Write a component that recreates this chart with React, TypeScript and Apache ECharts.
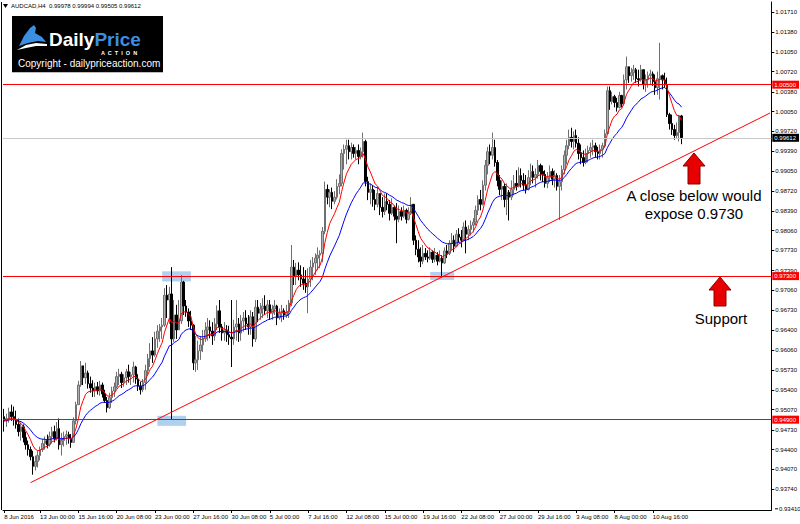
import React, { useEffect, useRef } from "react";
import * as echarts from "echarts";

// ---- Data (AUDCAD H4, 8 Jun 2016 12:00 -> 12 Aug 2016 16:00) ----
const FIRST_OPEN = 0.9495;

const closes: number[] = [
  0.9488, 0.9492, 0.9503, 0.9495, 0.9490, 0.9482, 0.9470, 0.9478, 0.9460, 0.9448,
  0.9440, 0.9428, 0.9412, 0.9420, 0.9430, 0.9440, 0.9450, 0.9455, 0.9448, 0.9462,
  0.9470, 0.9458, 0.9475, 0.9448, 0.9455, 0.9462, 0.9465, 0.9458, 0.9452, 0.9488,
  0.9515, 0.9548, 0.9580, 0.9560, 0.9568, 0.9550, 0.9543, 0.9538, 0.9545, 0.9538,
  0.9548, 0.9533, 0.9522, 0.9510, 0.9527, 0.9538, 0.9545, 0.9562, 0.9566, 0.9552,
  0.9560, 0.9570, 0.9562, 0.9565, 0.9578, 0.9558, 0.9546, 0.9540, 0.9552, 0.9572,
  0.9592, 0.9605, 0.9598, 0.9625, 0.9638, 0.9645, 0.9648, 0.9698, 0.9690, 0.9700,
  0.9625, 0.9665, 0.9640, 0.9655, 0.9720, 0.9680, 0.9670, 0.9655, 0.9648, 0.9585,
  0.9590, 0.9605, 0.9615, 0.9625, 0.9640, 0.9645, 0.9638, 0.9630, 0.9650, 0.9672,
  0.9645, 0.9635, 0.9640, 0.9632, 0.9628, 0.9625, 0.9645, 0.9650, 0.9635, 0.9655,
  0.9660, 0.9650, 0.9645, 0.9662, 0.9625, 0.9678, 0.9668, 0.9675, 0.9680, 0.9672,
  0.9682, 0.9668, 0.9675, 0.9680, 0.9660, 0.9668, 0.9672, 0.9665, 0.9670, 0.9685,
  0.9745, 0.9730, 0.9740, 0.9732, 0.9725, 0.9718, 0.9712, 0.9725, 0.9745, 0.9752,
  0.9760, 0.9765, 0.9768, 0.9805, 0.9875, 0.9862, 0.9870, 0.9855, 0.9862, 0.9880,
  0.9885, 0.9935, 0.9942, 0.9948, 0.9938, 0.9945, 0.9935, 0.9940, 0.9930, 0.9938,
  0.9955, 0.9888, 0.9870, 0.9875, 0.9858, 0.9850, 0.9868, 0.9845, 0.9838, 0.9855,
  0.9850, 0.9835, 0.9845, 0.9830, 0.9825, 0.9838, 0.9830, 0.9840, 0.9825, 0.9835,
  0.9850, 0.9790, 0.9775, 0.9762, 0.9755, 0.9768, 0.9762, 0.9760, 0.9770, 0.9758,
  0.9765, 0.9755, 0.9760, 0.9752, 0.9772, 0.9768, 0.9785, 0.9790, 0.9780, 0.9800,
  0.9795, 0.9790, 0.9812, 0.9800, 0.9808, 0.9815, 0.9820, 0.9840, 0.9858, 0.9850,
  0.9882, 0.9915, 0.9938, 0.9932, 0.9945, 0.9920, 0.9890, 0.9875, 0.9880, 0.9858,
  0.9870, 0.9862, 0.9875, 0.9885, 0.9880, 0.9898, 0.9890, 0.9882, 0.9875, 0.9895,
  0.9905, 0.9895, 0.9900, 0.9915, 0.9905, 0.9900, 0.9885, 0.9895, 0.9905, 0.9892,
  0.9898, 0.9880, 0.9888, 0.9908, 0.9932, 0.9948, 0.9962, 0.9955, 0.9965, 0.9952,
  0.9935, 0.9928, 0.9920, 0.9935, 0.9940, 0.9945, 0.9948, 0.9938, 0.9935, 0.9942,
  0.9948, 0.9968, 1.0040, 1.0022, 1.0030, 1.0020, 1.0012, 1.0032, 1.0018, 1.0058,
  1.0080, 1.0065, 1.0070, 1.0075, 1.0060, 1.0058, 1.0075, 1.0050, 1.0058, 1.0065,
  1.0068, 1.0055, 1.0045, 1.0060, 1.0065, 1.0058, 1.0050, 1.0000, 0.9985, 0.9975,
  0.9965, 0.9970, 0.99978, 0.99612,
];

const highs: number[] = [
  0.9508, 0.9500, 0.9510, 0.9515, 0.9512, 0.9505, 0.9492, 0.9485, 0.9482, 0.9470,
  0.9455, 0.9445, 0.9438, 0.9430, 0.9438, 0.9445, 0.9458, 0.9462, 0.9465, 0.9470,
  0.9478, 0.9480, 0.9486, 0.9492, 0.9468, 0.9470, 0.9472, 0.9470, 0.9466, 0.9494,
  0.9520, 0.9555, 0.9588, 0.9580, 0.9585, 0.9572, 0.9562, 0.9556, 0.9552, 0.9553,
  0.9555, 0.9552, 0.9540, 0.9528, 0.9535, 0.9545, 0.9552, 0.9570, 0.9575, 0.9570,
  0.9566, 0.9575, 0.9582, 0.9570, 0.9587, 0.9580, 0.9566, 0.9553, 0.9558, 0.9582,
  0.9600, 0.9618, 0.9628, 0.9637, 0.9648, 0.9650, 0.9660, 0.9710, 0.9715, 0.9712,
  0.9745, 0.9690, 0.9682, 0.9690, 0.9732, 0.9722, 0.9690, 0.9676, 0.9672, 0.9650,
  0.9630, 0.9622, 0.9630, 0.9640, 0.9653, 0.9660, 0.9656, 0.9653, 0.9660, 0.9681,
  0.9690, 0.9650, 0.9653, 0.9648, 0.9647, 0.9690, 0.9657, 0.9690, 0.9660, 0.9665,
  0.9670, 0.9673, 0.9665, 0.9673, 0.9670, 0.9690, 0.9690, 0.9685, 0.9693, 0.9698,
  0.9690, 0.9690, 0.9682, 0.9690, 0.9682, 0.9676, 0.9682, 0.9676, 0.9682, 0.9690,
  0.9782, 0.9757, 0.9752, 0.9753, 0.9748, 0.9745, 0.9740, 0.9743, 0.9757, 0.9762,
  0.9768, 0.9778, 0.9773, 0.9812, 0.9888, 0.9883, 0.9875, 0.9878, 0.9872, 0.9892,
  0.9900, 0.9942, 0.9950, 0.9958, 0.9958, 0.9953, 0.9950, 0.9946, 0.9950, 0.9945,
  0.9970, 0.9958, 0.9896, 0.9885, 0.9882, 0.9874, 0.9879, 0.9865, 0.9862, 0.9868,
  0.9868, 0.9857, 0.9860, 0.9848, 0.9852, 0.9848, 0.9845, 0.9848, 0.9843, 0.9845,
  0.9862, 0.9850, 0.9798, 0.9790, 0.9778, 0.9782, 0.9777, 0.9773, 0.9778, 0.9773,
  0.9777, 0.9770, 0.9773, 0.9765, 0.9778, 0.9782, 0.9790, 0.9802, 0.9798, 0.9807,
  0.9810, 0.9807, 0.9820, 0.9823, 0.9815, 0.9823, 0.9827, 0.9848, 0.9865, 0.9874,
  0.9890, 0.9924, 0.9946, 0.9950, 0.9970, 0.9958, 0.9924, 0.9899, 0.9890, 0.9885,
  0.9885, 0.9874, 0.9890, 0.9899, 0.9907, 0.9912, 0.9910, 0.9902, 0.9899, 0.9907,
  0.9918, 0.9915, 0.9910, 0.9924, 0.9918, 0.9915, 0.9907, 0.9904, 0.9915, 0.9910,
  0.9907, 0.9902, 0.9899, 0.9915, 0.9940, 0.9958, 0.9975, 0.9978, 0.9972, 0.9975,
  0.9962, 0.9950, 0.9940, 0.9943, 0.9948, 0.9953, 0.9958, 0.9953, 0.9946, 0.9950,
  0.9953, 0.9975, 1.0047, 1.0047, 1.0038, 1.0033, 1.0028, 1.0038, 1.0033, 1.0067,
  1.0097, 1.0080, 1.0078, 1.0083, 1.0078, 1.0075, 1.0083, 1.0075, 1.0067, 1.0072,
  1.0075, 1.0072, 1.0067, 1.0072, 1.0120, 1.0067, 1.0070, 1.0062, 1.0003, 1.0000,
  0.9983, 0.9987, 0.9999, 0.99994,
];

const lows: number[] = [
  0.9470, 0.9478, 0.9485, 0.9488, 0.9480, 0.9475, 0.9462, 0.9455, 0.9452, 0.9440,
  0.9430, 0.9422, 0.9398, 0.9405, 0.9410, 0.9422, 0.9436, 0.9440, 0.9442, 0.9445,
  0.9450, 0.9452, 0.9455, 0.9440, 0.9430, 0.9445, 0.9448, 0.9450, 0.9443, 0.9455,
  0.9482, 0.9515, 0.9545, 0.9548, 0.9550, 0.9542, 0.9535, 0.9528, 0.9528, 0.9532,
  0.9530, 0.9527, 0.9518, 0.9502, 0.9508, 0.9518, 0.9528, 0.9542, 0.9548, 0.9543,
  0.9545, 0.9548, 0.9552, 0.9548, 0.9552, 0.9550, 0.9538, 0.9532, 0.9536, 0.9540,
  0.9565, 0.9578, 0.9585, 0.9595, 0.9610, 0.9620, 0.9625, 0.9645, 0.9660, 0.9650,
  0.9490, 0.9620, 0.9625, 0.9640, 0.9650, 0.9665, 0.9662, 0.9645, 0.9640, 0.9573,
  0.9570, 0.9573, 0.9590, 0.9603, 0.9620, 0.9622, 0.9626, 0.9615, 0.9622, 0.9640,
  0.9635, 0.9622, 0.9622, 0.9620, 0.9615, 0.9578, 0.9615, 0.9622, 0.9620, 0.9622,
  0.9637, 0.9640, 0.9632, 0.9632, 0.9612, 0.9620, 0.9653, 0.9657, 0.9660, 0.9665,
  0.9660, 0.9657, 0.9657, 0.9665, 0.9648, 0.9657, 0.9653, 0.9657, 0.9660, 0.9660,
  0.9680, 0.9715, 0.9715, 0.9723, 0.9712, 0.9707, 0.9702, 0.9668, 0.9712, 0.9723,
  0.9732, 0.9740, 0.9743, 0.9753, 0.9800, 0.9850, 0.9845, 0.9842, 0.9850, 0.9858,
  0.9867, 0.9880, 0.9908, 0.9917, 0.9925, 0.9925, 0.9928, 0.9925, 0.9917, 0.9925,
  0.9928, 0.9880, 0.9857, 0.9850, 0.9846, 0.9840, 0.9845, 0.9832, 0.9828, 0.9832,
  0.9840, 0.9823, 0.9832, 0.9823, 0.9785, 0.9820, 0.9823, 0.9827, 0.9818, 0.9823,
  0.9832, 0.9782, 0.9765, 0.9753, 0.9745, 0.9750, 0.9757, 0.9753, 0.9757, 0.9752,
  0.9753, 0.9748, 0.9753, 0.9728, 0.9750, 0.9760, 0.9765, 0.9773, 0.9770, 0.9778,
  0.9787, 0.9778, 0.9788, 0.9768, 0.9790, 0.9798, 0.9803, 0.9815, 0.9832, 0.9840,
  0.9848, 0.9873, 0.9900, 0.9917, 0.9925, 0.9913, 0.9880, 0.9865, 0.9857, 0.9845,
  0.9832, 0.9823, 0.9857, 0.9865, 0.9873, 0.9878, 0.9878, 0.9873, 0.9868, 0.9873,
  0.9882, 0.9885, 0.9878, 0.9893, 0.9890, 0.9887, 0.9878, 0.9877, 0.9887, 0.9882,
  0.9878, 0.9873, 0.9824, 0.9873, 0.9900, 0.9917, 0.9942, 0.9945, 0.9942, 0.9945,
  0.9925, 0.9917, 0.9913, 0.9917, 0.9920, 0.9928, 0.9932, 0.9928, 0.9925, 0.9925,
  0.9928, 0.9945, 0.9967, 1.0008, 1.0017, 1.0012, 1.0005, 1.0010, 1.0012, 1.0015,
  1.0042, 1.0053, 1.0055, 1.0058, 1.0053, 1.0047, 1.0055, 1.0042, 1.0038, 1.0045,
  1.0050, 1.0048, 1.0033, 1.0033, 1.0025, 1.0042, 1.0045, 0.9996, 0.9975, 0.9966,
  0.9958, 0.9961, 0.9955, 0.99505,
];

const PRICE_TICKS: number[] = [
  0.9341, 0.9374, 0.9407, 0.944, 0.9473, 0.9507, 0.954, 0.9573, 0.9606, 0.964,
  0.9673, 0.9706, 0.9739, 0.9773, 0.9806, 0.9839, 0.9872, 0.9905, 0.9939, 0.9972,
  1.0005, 1.0038, 1.0072, 1.0105, 1.0138, 1.0171,
];

const RED_LEVELS: number[] = [1.005, 0.973, 0.949];
const BID = 0.99612;
const TREND_START: [number, number] = [11, 0.93847];
const TREND_END: [number, number] = [320, 1.00027];
const BOXES: [number, number, number, number][] = [
  [66, 0.9738, 78, 0.9721],
  [64, 0.94964, 76, 0.94797],
  [178, 0.9737, 188, 0.97236],
];

const TOTAL_SLOTS = 321;
const MONTHS = ["Jan", "Feb", "Mar", "Apr", "May", "Jun", "Jul", "Aug", "Sep", "Oct", "Nov", "Dec"];

function buildCategories(): string[] {
  const out: string[] = [];
  let t = Date.UTC(2016, 5, 8, 12);
  while (out.length < TOTAL_SLOTS) {
    const d = new Date(t);
    const wd = d.getUTCDay();
    if (wd !== 0 && wd !== 6) {
      if (out.length === 0) {
        out.push(`${d.getUTCDate()} ${MONTHS[d.getUTCMonth()]} ${d.getUTCFullYear()}`);
      } else {
        const hh = String(d.getUTCHours()).padStart(2, "0");
        out.push(`${d.getUTCDate()} ${MONTHS[d.getUTCMonth()]} ${hh}:00`);
      }
    }
    t += 4 * 3600 * 1000;
  }
  return out;
}

function ema(vals: number[], p: number): number[] {
  const k = 2 / (p + 1);
  const out: number[] = [];
  let e = vals[0];
  vals.forEach((v, i) => {
    e = i === 0 ? v : v * k + e * (1 - k);
    out.push(+e.toFixed(5));
  });
  return out;
}

const showIdx = (i: number) => i === 0 || (i >= 15 && i <= 283 && (i - 15) % 16 === 0);

export default function App() {
  const ref = useRef<HTMLDivElement>(null);
  useEffect(() => {
    if (!ref.current) return;
    const chart = echarts.init(ref.current, null, { renderer: "svg" });
    const cats = buildCategories();
    const candles = closes.map((c, i) => {
      const o = i === 0 ? FIRST_OPEN : closes[i - 1];
      const h = Math.max(highs[i], o, c);
      const l = Math.min(lows[i], o, c);
      return [o, c, l, h];
    });
    const font = "'Liberation Sans', Arial, sans-serif";
    const redLines = RED_LEVELS.map((v) => ({
      yAxis: v,
      lineStyle: { color: "#ff0000", width: 1, type: "solid" },
      label: {
        show: true,
        position: "end",
        distance: 1,
        formatter: v.toFixed(5),
        color: "#fff",
        backgroundColor: "#ff0000",
        fontSize: 6,
        fontFamily: font,
        padding: [1, 3, 1, 2],
      },
    }));
    const option: any = {
      animation: false,
      backgroundColor: "#ffffff",
      grid: { left: 3, right: 25, top: 2, bottom: 14 },
      xAxis: {
        type: "category",
        data: cats,
        boundaryGap: true,
        axisLine: { show: true, lineStyle: { color: "#000", width: 1 } },
        axisTick: {
          show: true,
          alignWithLabel: true,
          interval: (i: number) => showIdx(i),
          length: 3,
          lineStyle: { color: "#000" },
        },
        axisLabel: {
          interval: (i: number) => showIdx(i),
          fontSize: 6,
          color: "#000",
          align: "left",
          margin: 4,
          fontFamily: font,
        },
        splitLine: { show: false },
      },
      yAxis: {
        type: "value",
        position: "right",
        min: 0.9339,
        max: 1.01882,
        axisLine: { show: true, lineStyle: { color: "#000", width: 1 } },
        axisTick: { show: true, length: 3, customValues: PRICE_TICKS.slice(1), lineStyle: { color: "#000" } },
        axisLabel: {
          customValues: PRICE_TICKS.slice(1),
          formatter: (v: number) => v.toFixed(5),
          fontSize: 6,
          color: "#000",
          margin: 4,
          fontFamily: font,
          showMaxLabel: true,
          hideOverlap: false,
        },
        splitLine: { show: false },
      },
      series: [
        {
          type: "candlestick",
          data: candles,
          barWidth: 2,
          itemStyle: {
            color: "#b0b0b0",
            color0: "#000000",
            borderColor: "#707070",
            borderColor0: "#000000",
            borderWidth: 1,
          },
          markLine: {
            silent: true,
            symbol: "none",
            precision: 5,
            animation: false,
            data: [
              ...redLines,
              {
                yAxis: BID,
                lineStyle: { color: "#c8c8c8", width: 1, type: "solid" },
                label: {
                  show: true,
                  position: "end",
                  distance: 1,
                  formatter: BID.toFixed(5),
                  color: "#fff",
                  backgroundColor: "#000",
                  fontSize: 6,
                  fontFamily: font,
                  padding: [1, 3, 1, 2],
                },
              },
              [
                { coord: TREND_START, lineStyle: { color: "#ff0000", width: 1, type: "solid" }, label: { show: false } },
                { coord: TREND_END },
              ],
            ],
          },
          markArea: {
            silent: true,
            itemStyle: { color: "rgba(110,170,225,0.55)" },
            data: BOXES.map((b) => [
              { xAxis: b[0], yAxis: b[1] },
              { xAxis: b[2], yAxis: b[3] },
            ]),
          },
        },
        {
          type: "line",
          data: ema(closes, 21),
          showSymbol: false,
          symbol: "none",
          lineStyle: { color: "#0000ff", width: 1 },
          z: 3,
        },
        {
          type: "line",
          data: ema(closes, 8),
          showSymbol: false,
          symbol: "none",
          lineStyle: { color: "#ff0000", width: 1 },
          z: 4,
        },
      ],
      graphic: [
        { type: "line", shape: { x1: 1.5, y1: 2, x2: 1.5, y2: 510 }, style: { stroke: "#000", lineWidth: 1 } },
        { type: "polygon", shape: { points: [[3, 4], [8, 4], [5.5, 8]] }, style: { fill: "#000" } },
        {
          type: "text",
          x: 11,
          y: 6,
          style: {
            text: "AUDCAD,H4  0.99978 0.99994 0.99505 0.99612",
            fontSize: 6,
            fontFamily: font,
            fill: "#000",
            verticalAlign: "middle",
          },
        },
        // logo
        { type: "rect", shape: { x: 12, y: 16, width: 151, height: 56 }, style: { fill: "#000" } },
        { type: "rect", shape: { x: 12, y: 72, width: 151, height: 1 }, style: { fill: "#bdbdbd" } },
        {
          type: "polygon",
          shape: { points: [[19, 46], [24, 36], [30, 28], [34, 25], [36, 28], [35, 33], [42, 37], [46, 42], [38, 41], [28, 43]] },
          style: { fill: "#3b8ee0" },
        },
        {
          type: "polygon",
          shape: { points: [[17, 50], [26, 45], [36, 43], [47, 44], [47, 46], [36, 46], [26, 48]] },
          style: { fill: "#ffffff" },
        },
        {
          type: "text",
          x: 49,
          y: 39,
          style: {
            text: "{a|Daily}{b|Price}",
            verticalAlign: "middle",
            rich: {
              a: { fontSize: 19, lineHeight: 17, fontWeight: "bold", fill: "#ffffff", fontFamily: font },
              b: { fontSize: 19, lineHeight: 17, fontWeight: "bold", fill: "#3b8ee0", fontFamily: font },
            },
          },
        },
        {
          type: "text",
          x: 101,
          y: 52.5,
          style: { text: "A  C  T  I  O  N", fontSize: 5.5, lineHeight: 5, fontWeight: "bold", fill: "#ffffff", fontFamily: font, verticalAlign: "middle" },
        },
        {
          type: "text",
          x: 18,
          y: 63.5,
          style: { text: "Copyright - dailypriceaction.com", fontSize: 10, fill: "#ffffff", fontFamily: font, verticalAlign: "middle" },
        },
        // arrows
        {
          type: "polygon",
          shape: { points: [[694, 153], [705, 166], [700, 166], [700, 184], [688, 184], [688, 166], [683, 166]] },
          style: { fill: "#e60000", stroke: "#8c0000", lineWidth: 1 },
        },
        {
          type: "polygon",
          shape: { points: [[720, 277], [731, 290], [726, 290], [726, 306], [714, 306], [714, 290], [709, 290]] },
          style: { fill: "#e60000", stroke: "#8c0000", lineWidth: 1 },
        },
        {
          type: "text",
          x: 694,
          y: 195,
          style: { text: "A close below would", fontSize: 15, fontFamily: font, fill: "#000", align: "center", verticalAlign: "middle" },
        },
        {
          type: "text",
          x: 694,
          y: 213,
          style: { text: "expose 0.9730", fontSize: 15, fontFamily: font, fill: "#000", align: "center", verticalAlign: "middle" },
        },
        {
          type: "text",
          x: 721,
          y: 318,
          style: { text: "Support", fontSize: 15, fontFamily: font, fill: "#000", align: "center", verticalAlign: "middle" },
        },
      ],
    };
    chart.setOption(option);
    // Bottom price label (0.93410): placed through the y scale of the chart
    const minTick = PRICE_TICKS[0];
    const py = chart.convertToPixel({ yAxisIndex: 0 }, minTick) as number;
    const axisX = 800 - 25;
    chart.setOption({
      graphic: [
        {
          id: "minTickLabel",
          type: "text",
          x: axisX + 4,
          y: py,
          style: { text: minTick.toFixed(5), fontSize: 6, fontFamily: font, fill: "#000", verticalAlign: "middle" },
        },
        {
          id: "minTickMark",
          type: "line",
          shape: { x1: axisX, y1: py, x2: axisX + 3, y2: py },
          style: { stroke: "#000", lineWidth: 1 },
        },
      ],
    });
    return () => chart.dispose();
  }, []);
  return <div ref={ref} style={{ position: "fixed", left: 0, top: 0, width: 800, height: 524 }} />;
}
